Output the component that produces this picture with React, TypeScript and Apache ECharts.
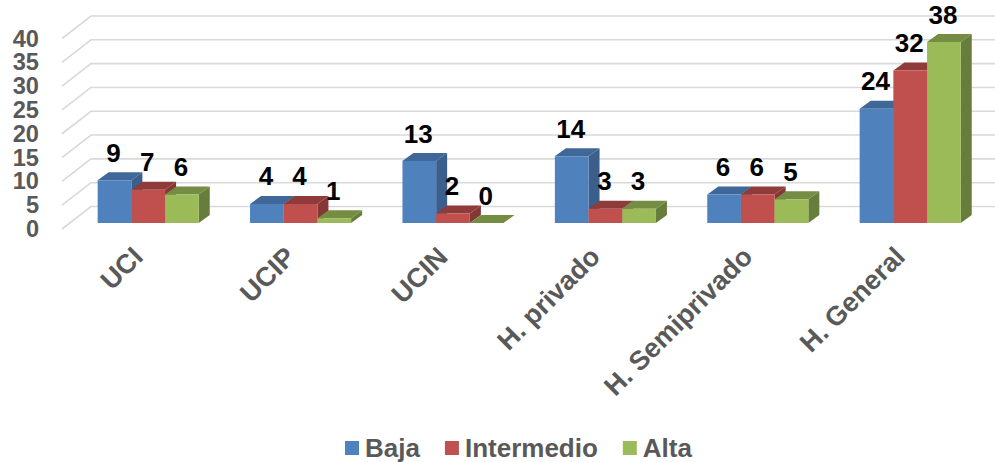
import React, { useEffect, useRef } from "react";
import * as echarts from "echarts";

const categories = ["UCI", "UCIP", "UCIN", "H. privado", "H. Semiprivado", "H. General"];
const seriesNames = ["Baja", "Intermedio", "Alta"];
const baja = [9, 4, 13, 14, 6, 24];
const intermedio = [7, 4, 2, 3, 6, 32];
const alta = [6, 1, 0, 3, 5, 38];
const gridTicks = [0, 5, 10, 15, 20, 25, 30, 35, 40];

const faceColors = ["#4F81BD", "#C0504D", "#9BBB59"];
const topColors = ["#3F6797", "#8F3B39", "#748D43"];
const sideColors = ["#3A5F8C", "#843735", "#677D3B"];

const FONT = '"Liberation Sans", Arial, sans-serif';
const BAR_SHARE = 0.2211;
const DEPTH_X = 11;
const DEPTH_Y = 8;
const FLOOR_LIFT = 6;
const WALL_LEFT = 62;
const WALL_BACK_X = 91;
const WALL_BACK_Y = 22.5;
const WALL_RIGHT = 995;
const TICK_LABEL_RIGHT = 39;

// Each tick gets its floor/wall gridline plus its number, so that tightly packed
// numbers are all kept (the axis itself would drop neighbours of the end labels).
function renderWall(_params: any, api: any) {
  const tick = api.value(1);
  const y = api.coord([0, tick])[1];
  return {
    type: "group",
    silent: true,
    children: [
      {
        type: "polyline",
        shape: {
          points: [
            [WALL_LEFT, y],
            [WALL_BACK_X, y - WALL_BACK_Y],
            [WALL_RIGHT, y - WALL_BACK_Y],
          ],
        },
        style: { fill: "none", stroke: "#D9D9D9", lineWidth: 1.6 },
      },
      {
        type: "text",
        x: TICK_LABEL_RIGHT,
        y,
        style: {
          text: String(tick),
          fill: "#595959",
          font: `bold 23.6px ${FONT}`,
          align: "right",
          verticalAlign: "middle",
        },
      },
    ],
  };
}

function makeBarRenderer(index: number) {
  return (_params: any, api: any) => {
    const value = api.value(1);
    const center = api.coord([api.value(0), value]);
    const base = api.coord([api.value(0), 0])[1] - FLOOR_LIFT;
    const w = api.size([1, 0])[0] * BAR_SHARE;
    const x = center[0] + (index - 1.5) * w;
    const top = center[1] - FLOOR_LIFT;
    return {
      type: "group",
      children: [
        {
          type: "polygon",
          shape: {
            points: [
              [x + w, top],
              [x + w + DEPTH_X, top - DEPTH_Y],
              [x + w + DEPTH_X, base - DEPTH_Y],
              [x + w, base],
            ],
          },
          style: { fill: sideColors[index] },
        },
        {
          type: "polygon",
          shape: {
            points: [
              [x, top],
              [x + DEPTH_X, top - DEPTH_Y],
              [x + w + DEPTH_X, top - DEPTH_Y],
              [x + w, top],
            ],
          },
          style: { fill: topColors[index] },
        },
        {
          type: "rect",
          shape: { x, y: top, width: w, height: base - top },
          style: { fill: faceColors[index] },
        },
        {
          type: "text",
          x: x + w / 2 - 1,
          y: top - DEPTH_Y - 19.5,
          style: {
            text: String(value),
            fill: "#000000",
            font: `bold 26px ${FONT}`,
            align: "center",
            verticalAlign: "middle",
          },
        },
      ],
    };
  };
}

function barSeries(name: string, values: number[], index: number) {
  return {
    type: "custom",
    name,
    data: values.map((v, i) => [i, v]),
    encode: { x: 0, y: 1 },
    itemStyle: { color: faceColors[index] },
    renderItem: makeBarRenderer(index),
    z: 3 + index,
  };
}

export default function App() {
  const ref = useRef<HTMLDivElement>(null);
  useEffect(() => {
    const chart = echarts.init(ref.current!, undefined, { renderer: "svg" });
    chart.setOption({
      animation: false,
      backgroundColor: "#FFFFFF",
      grid: [
        { left: 72, top: 38.5, width: 914.4, height: 190.5 },
        // Carries only the slanted category names, which sit left of each bar group.
        { left: 62, top: 38.5, width: 914.4, height: 190.5 },
      ],
      xAxis: [
        {
          type: "category",
          data: categories,
          axisLine: { show: false },
          axisTick: { show: false },
          axisLabel: { show: false },
        },
        {
          type: "category",
          gridIndex: 1,
          data: categories,
          axisLine: { show: false },
          axisTick: { show: false },
          axisLabel: {
            rotate: 45,
            interval: 0,
            margin: 23,
            color: "#595959",
            fontFamily: FONT,
            fontWeight: "bold",
            fontSize: 27,
          },
        },
      ],
      yAxis: [
        {
          type: "value",
          min: 0,
          max: 40,
          interval: 5,
          splitLine: { show: false },
          axisLine: { show: false },
          axisTick: { show: false },
          axisLabel: { show: false },
        },
        {
          type: "value",
          gridIndex: 1,
          min: 0,
          max: 40,
          interval: 5,
          show: false,
        },
      ],
      legend: {
        left: 340,
        top: 430,
        icon: "rect",
        itemWidth: 14,
        itemHeight: 14,
        itemGap: 25,
        data: seriesNames,
        selectedMode: false,
        textStyle: {
          color: "#595959",
          fontFamily: FONT,
          fontWeight: "bold",
          fontSize: 26,
          padding: [0, 0, 5, 1],
        },
      },
      series: [
        {
          type: "custom",
          name: "grid",
          silent: true,
          data: gridTicks.map((t) => [0, t]),
          encode: { x: 0, y: 1 },
          renderItem: renderWall,
          z: 1,
        },
        barSeries(seriesNames[0], baja, 0),
        barSeries(seriesNames[1], intermedio, 1),
        barSeries(seriesNames[2], alta, 2),
      ],
    });
    return () => chart.dispose();
  }, []);
  return <div ref={ref} style={{ position: "absolute", left: 0, top: 0, width: 995, height: 462 }} />;
}
